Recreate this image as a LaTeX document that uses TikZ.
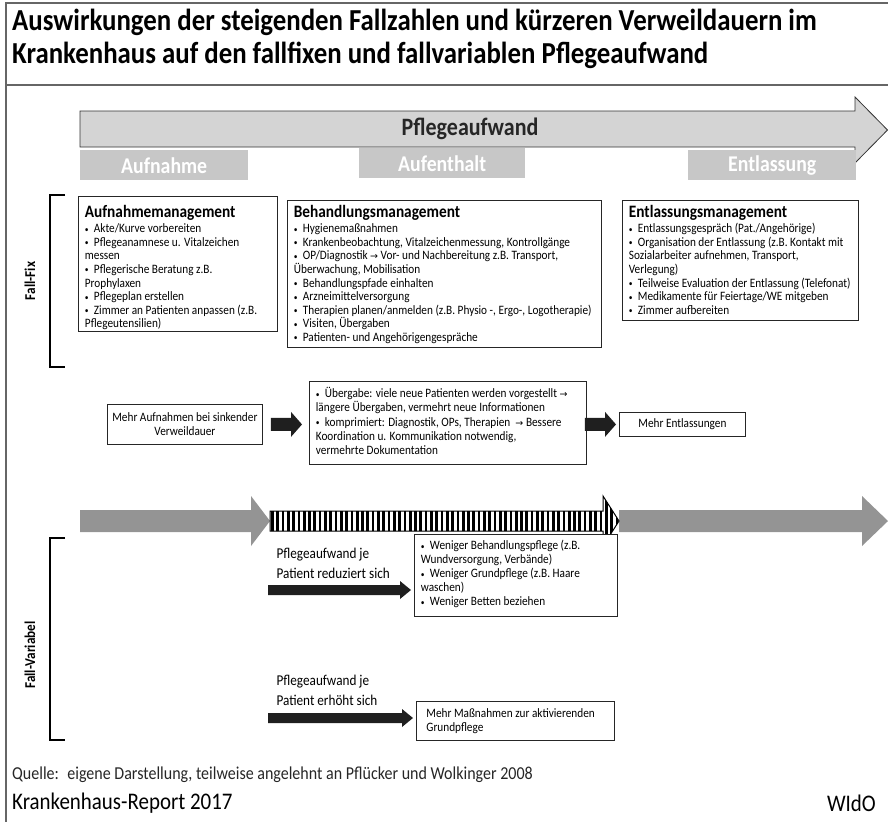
\documentclass[tikz,border=0pt]{standalone}
\usepackage{fontspec}
\setmainfont{Carlito}[FakeStretch=0.88]
\newfontfamily\symf{DejaVu Sans}
\usetikzlibrary{calc}
\newcommand\rarr{{\symf\fontsize{9.5}{9.5}\selectfont\char"2192}}
\newcommand\itm[1]{\par\hangindent=9pt\hangafter=1\noindent\makebox[9pt][l]{\raisebox{0.6pt}{\fontsize{8.5}{8.5}\selectfont\textbullet}}#1}
\newcommand\boxtext[3]{\begin{minipage}[c][#2][t]{#1}\raggedright\setlength\parindent{0pt}#3\end{minipage}}
\newcommand\btitle[1]{{\bfseries\fontsize{17.4}{18}\selectfont #1}\par\vspace{1.5pt}}
\newcommand\fatarrow[6]{%
  \path[#1] ($(#2)+(0,-#4)$) -- ($(#3)+(-#6,-#4)$) -- ($(#3)+(-#6,-#5)$) -- (#3)
    -- ($(#3)+(-#6,#5)$) -- ($(#3)+(-#6,#4)$) -- ($(#2)+(0,#4)$) -- cycle;}
\begin{document}
\begin{tikzpicture}[x=1pt,y=-1pt,
  frame/.style={draw=black!60, line width=1.4pt},
  box/.style={draw=black!85, line width=0.8pt, fill=white, inner ysep=0pt, inner xsep=6.5pt, anchor=north west},
  simplebox/.style={draw=black!85, line width=0.8pt, fill=white, inner sep=0pt, align=center, font=\fontsize{12.8}{14}\selectfont},
  phase/.style={fill=black!22, text=white, inner sep=0pt, font=\bfseries\fontsize{22.5}{22.5}\selectfont, minimum height=30pt, minimum width=168pt},
  brk/.style={line width=2pt, draw=black},
  blk/.style={fill=black!88},
  gry/.style={fill=black!42},
  body/.style={font=\fontsize{12.8}{13.6}\selectfont},
  side/.style={rotate=90, font=\bfseries\fontsize{15}{15}\selectfont},
  eff/.style={anchor=west, align=left, font=\fontsize{15}{20}\selectfont}
]
\useasboundingbox (0,0) rectangle (888,822);
% frame
\draw[frame] (888,3) -- (6,3) -- (6,822);
\draw[frame] (6,85) -- (888,85);
% title
\node[anchor=west, align=left, font=\bfseries\fontsize{30.5}{33}\selectfont, inner sep=0pt] (title) at (12,38.5)
  {Auswirkungen der steigenden Fallzahlen und kürzeren Verweildauern im\\Krankenhaus auf den fallfixen und fallvariablen Pflegeaufwand};
% header arrow
\draw[fill=black!17, draw=black!80, line width=0.8pt] (80,111) -- (855,111) -- (855,97) -- (887.5,130) -- (855,163) -- (855,147) -- (80,147) -- cycle;
\node[font=\bfseries\fontsize{25}{25}\selectfont, text=black!85] (pfl) at (470,129) {Pflegeaufwand};
% phases
\node[phase, anchor=north west] (ph1) at (80,150) {Aufnahme};
\node[phase, anchor=north west, minimum width=166pt] (ph2) at (359,148) {Aufenthalt};
\node[phase, anchor=north west] (ph3) at (688,150) {Entlassung};
% Fall-Fix bracket
\draw[brk] (65,195) -- (50,195) -- (50,367) -- (65,367);
\node[side] (ff) at (30,281) {Fall-Fix};
% Box 1
\node[box, body] (b1) at (78,196) {\boxtext{186pt}{135pt}{\vspace*{9pt}\btitle{Aufnahmemanagement}
\itm{Akte/Kurve vorbereiten}
\itm{Pflegeanamnese u. Vitalzeichen\\messen}
\itm{Pflegerische Beratung z.B.\\Prophylaxen}
\itm{Pflegeplan erstellen}
\itm{Zimmer an Patienten anpassen (z.B.\\Pflegeutensilien)}}};
% Box 2
\node[box, body] (b2) at (287,200) {\boxtext{301pt}{147pt}{\vspace*{5pt}\btitle{Behandlungsmanagement}
\itm{Hygienemaßnahmen}
\itm{Krankenbeobachtung, Vitalzeichenmessung, Kontrollgänge}
\itm{OP/Diagnostik \rarr{} Vor- und Nachbereitung z.B. Transport,\\Überwachung, Mobilisation}
\itm{Behandlungspfade einhalten}
\itm{Arzneimittelversorgung}
\itm{Therapien planen/anmelden (z.B. Physio -, Ergo-, Logotherapie)}
\itm{Visiten, Übergaben}
\itm{Patienten- und Angehörigengespräche}}};
% Box 3
\node[box, body] (b3) at (622,200) {\boxtext{223pt}{120pt}{\vspace*{5pt}\btitle{Entlassungsmanagement}
\itm{Entlassungsgespräch (Pat./Angehörige)}
\itm{Organisation der Entlassung (z.B. Kontakt mit\\Sozialarbeiter aufnehmen, Transport,\\Verlegung)}
\itm{Teilweise Evaluation der Entlassung (Telefonat)}
\itm{Medikamente für Feiertage/WE mitgeben}
\itm{Zimmer aufbereiten}}};
% middle row
\node[simplebox, anchor=north west, minimum width=155pt, minimum height=40pt] (m1) at (107,404)
  {Mehr Aufnahmen bei sinkender\\Verweildauer};
\node[box, font=\fontsize{12.8}{14.2}\selectfont] (m2) at (309,381) {\boxtext{264pt}{83pt}{\vspace*{6pt}%
\itm{Übergabe: viele neue Patienten werden vorgestellt \rarr\\längere Übergaben, vermehrt neue Informationen}
\itm{komprimiert: Diagnostik, OPs, Therapien~ \rarr{} Bessere\\Koordination u. Kommunikation notwendig,\\vermehrte Dokumentation}}};
\node[simplebox, anchor=north west, minimum width=126pt, minimum height=24pt] (m3) at (619,412) {Mehr Entlassungen};
\coordinate (a1s) at ($(m1.east)+(8,0)$);
\coordinate (a1e) at ($(m2.west |- m1.east)+(-7,0)$);
\coordinate (a2s) at ($(m2.east |- m1.east)+(-2,0)$);
\coordinate (a2e) at ($(m3.west)+(-3,0)$);
\fatarrow{blk}{a1s}{a1e}{6.5}{12.5}{11}
\fatarrow{blk}{a2s}{a2e}{6.5}{12.5}{11}
% big arrow row
\coordinate (g1s) at (80,521);
\coordinate (g1e) at (270,521);
\coordinate (g2e) at (619,521);
\coordinate (g3e) at (888,521);
\fatarrow{gry}{g1s}{g1e}{11}{25}{19}
\fatarrow{gry}{g2e}{g3e}{11}{25}{26}
\begin{scope}
  \fatarrow{clip}{g1e}{g2e}{10}{25}{16}
  \fill[white] (260,480) rectangle (630,560);
  \foreach \i in {0,...,66} {\fill[black] ({271+5.3*\i},480) rectangle ({273.7+5.3*\i},560);}
\end{scope}
\fatarrow{draw=black, line width=1pt}{g1e}{g2e}{10}{25}{16}
% Fall-Variabel bracket
\draw[brk] (65,538) -- (50,538) -- (50,740) -- (65,740);
\node[side] (fv) at (30,655) {Fall-Variabel};
% lower section
\node[eff] (t1) at (273,563) {Pflegeaufwand je\\Patient reduziert sich};
\node[box, font=\fontsize{12.8}{14}\selectfont] (l1) at (414,534) {\boxtext{190pt}{82pt}{\vspace*{6pt}%
\itm{Weniger Behandlungspflege (z.B.\\Wundversorgung, Verbände)}
\itm{Weniger Grundpflege (z.B. Haare\\waschen)}
\itm{Weniger Betten beziehen}}};
\node[eff] (t2) at (273,690) {Pflegeaufwand je\\Patient erhöht sich};
\node[box, font=\fontsize{12.8}{14}\selectfont, inner xsep=10pt] (l2) at (416,701) {\boxtext{178pt}{39pt}{\vspace*{7pt}Mehr Maßnahmen zur aktivierenden\\Grundpflege}};
\coordinate (c1s) at (268,590);
\coordinate (c1e) at ($(l1.west |- c1s)+(-3,0)$);
\coordinate (c2s) at (268,718);
\coordinate (c2e) at ($(l2.west |- c2s)+(-3,0)$);
\fatarrow{blk}{c1s}{c1e}{5}{9}{11}
\fatarrow{blk}{c2s}{c2e}{5}{9}{11}
% footer
\node[anchor=west, inner sep=0pt, font=\fontsize{18.2}{18}\selectfont, text=black!85] (src) at (12,775)
  {Quelle:~ eigene Darstellung, teilweise angelehnt an Pflücker und Wolkinger 2008};
\node[anchor=west, inner sep=0pt, font=\fontsize{23.8}{24}\selectfont] (kr) at (12,803) {Krankenhaus-Report 2017};
\node[anchor=east, inner sep=0pt, font=\fontsize{23.8}{24}\selectfont] (wido) at (876,803) {WIdO};
\end{tikzpicture}
\end{document}
